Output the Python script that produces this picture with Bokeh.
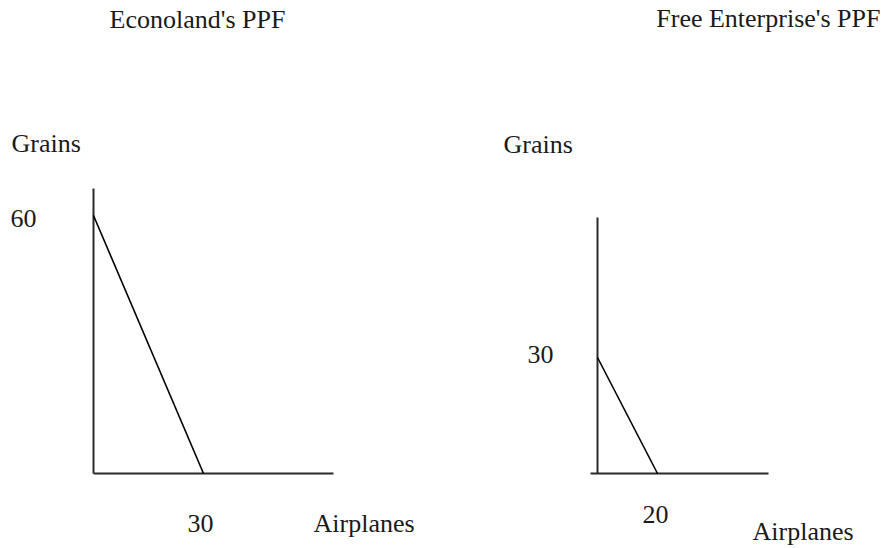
from bokeh.plotting import figure
from bokeh.layouts import row
from bokeh.models import Range1d
from bokeh.core.properties import value
from bokeh.embed import file_html
from bokeh.resources import INLINE

# ---------------- data ----------------
titles = ["Econoland's PPF", "Free Enterprise's PPF"]
grain_max = [60, 30]        # vertical intercepts (Grains)
airplane_max = [30, 20]     # horizontal intercepts (Airplanes)
y_name = "Grains"
x_name = "Airplanes"

# ---------------- layout (pixels) ----------------
H = 548
widths = [440, 441]
origin_px = [(93, 473), (157, 473)]          # canvas position of (0, 0)
px_per_unit = [(110 / 30, 258 / 60), (3.0, 116 / 30)]
vaxis_px = [285, 256]                         # vertical axis length above origin
haxis_px = [(0, 240), (-7, 171)]              # horizontal axis extent
title_pos = [(197, 19, "center"), (440, 18, "right")]
yname_pos = [(11, 143), (63, 144)]
xname_pos = [(313, 523), (312, 531)]
ytick_off = [(-57, 3), (-44, -3)]
xtick_off = [(-3, 50), (-2, 41)]

FONT = value("Liberation Serif")
FS = "26px"
TXT = "#1a1a1a"

panels = []
for i in range(2):
    W = widths[i]
    ox, oy = origin_px[i]
    sx, sy = px_per_unit[i]
    p = figure(width=W, height=H, output_backend="svg", toolbar_location=None,
               x_axis_type=None, y_axis_type=None,
               x_range=Range1d(-ox / sx, (W - ox) / sx),
               y_range=Range1d(-(H - oy) / sy, oy / sy),
               min_border=0, outline_line_color=None)
    p.grid.visible = False
    p.extra_x_ranges = {"px": Range1d(0, W)}
    p.extra_y_ranges = {"px": Range1d(H, 0)}

    # axes
    p.line(x=[0, 0], y=[0, vaxis_px[i] / sy], line_color="#2a2a2a", line_width=2)
    p.line(x=[haxis_px[i][0] / sx, haxis_px[i][1] / sx], y=[0, 0],
           line_color="#2a2a2a", line_width=2)

    # PPF
    p.line(x=[0, airplane_max[i]], y=[grain_max[i], 0], line_color="black", line_width=1.6)

    # intercept labels
    p.text(x=[0], y=[grain_max[i]], text=[str(grain_max[i])],
           x_offset=ytick_off[i][0], y_offset=ytick_off[i][1],
           text_align="right", text_baseline="alphabetic",
           text_font=FONT, text_font_size=FS, text_color=TXT)
    p.text(x=[airplane_max[i]], y=[0], text=[str(airplane_max[i])],
           x_offset=xtick_off[i][0], y_offset=xtick_off[i][1],
           text_align="center", text_baseline="alphabetic",
           text_font=FONT, text_font_size=FS, text_color=TXT)

    # titles and axis names (pixel positions)
    tx, ty, ta = title_pos[i]
    p.text(x=[tx], y=[ty], text=[titles[i]], x_range_name="px", y_range_name="px",
           text_align=ta, text_baseline="alphabetic",
           text_font=FONT, text_font_size=FS, text_color=TXT)
    p.text(x=[yname_pos[i][0]], y=[yname_pos[i][1]], text=[y_name],
           x_range_name="px", y_range_name="px",
           text_align="left", text_baseline="alphabetic",
           text_font=FONT, text_font_size=FS, text_color=TXT)
    p.text(x=[xname_pos[i][0]], y=[xname_pos[i][1]], text=[x_name],
           x_range_name="px", y_range_name="px",
           text_align="left", text_baseline="alphabetic",
           text_font=FONT, text_font_size=FS, text_color=TXT)
    panels.append(p)

layout = row(*panels, spacing=0)
open("out.html", "w").write(file_html(layout, INLINE))
